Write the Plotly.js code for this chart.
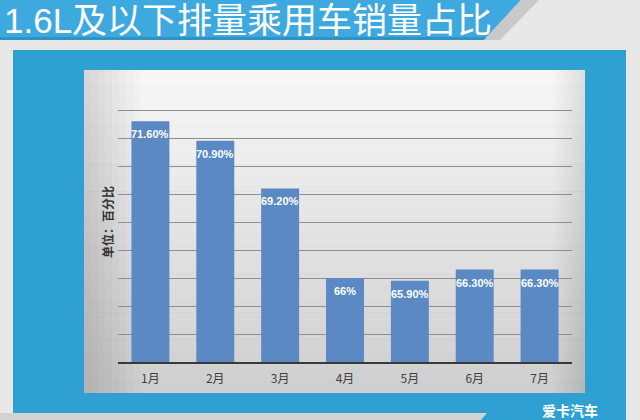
<!DOCTYPE html>
<html><head><meta charset="utf-8">
<script src="https://cdn.plot.ly/plotly-3.0.1.min.js"></script>
<style>html,body{margin:0;padding:0;background:#e8e8e8;}#chart{width:640px;height:420px;}</style>
</head><body><div id="chart"></div>
<script>
const months = ['1月','2月','3月','4月','5月','6月','7月'];
const shares = [71.6, 70.9, 69.2, 66, 65.9, 66.3, 66.3];
const shareLabels = ['71.60%','70.90%','69.20%','66%','65.90%','66.30%','66.30%'];
const chartTitle = '1.6L及以下排量乘用车销量占比';
const yAxisTitle = '单位：百分比';
const logoText = '爱卡汽车';
const yRange = [63, 73];

// plot-area pixel box (for decoration placement)
const L = 118, R = 572, T = 82, B = 362;
const px = x => (x - L) / (R - L);
const py = y => (B - y) / (B - T);
function rect(x0, y0, x1, y1, fill) {
  return {type:'rect', xref:'paper', yref:'paper', x0:px(x0), x1:px(x1), y0:py(y1), y1:py(y0),
          fillcolor:fill, line:{width:0}, layer:'below'};
}
function poly(pts, fill) {
  return {type:'path', xref:'paper', yref:'paper',
          path:'M' + pts.map(p => px(p[0]) + ',' + py(p[1])).join(' L') + ' Z',
          fillcolor:fill, line:{width:0}, layer:'below'};
}

const shapes = [];
// header banner
shapes.push(poly([[0,0],[521,0],[484,40],[0,40]], '#3ea9de'));
shapes.push(rect(0,37,486,40,'#2f93c6'));
shapes.push(poly([[521,0],[539,0],[500,40],[484,40]], '#c9c9c9'));
// blue frame
shapes.push(rect(13,50,626,420,'#2ea0d1'));
// chart area with vertical gradient
const cx0 = 84, cx1 = 585, cy0 = 70, cy1 = 393, N = 24;
for (let i = 0; i < N; i++) {
  const t = i / (N - 1);
  const v = Math.round(247 - 40 * t);
  const y0 = cy0 + (cy1 - cy0) * i / N, y1 = cy0 + (cy1 - cy0) * (i + 1) / N + 0.6;
  shapes.push(rect(cx0, y0, cx1, Math.min(y1, cy1), `rgb(${v},${v},${v})`));
}
// side shading
for (let i = 1; i <= 8; i++) {
  shapes.push(rect(cx0, cy0, cx0 + i * 7, cy1, 'rgba(0,0,0,0.017)'));
  shapes.push(rect(cx1 - i * 4, cy0, cx1, cy1, 'rgba(0,0,0,0.012)'));
}
// bottom tab
shapes.push(poly([[0,413],[487,413],[481,420],[0,420]], '#d2d2d2'));

const data = [{
  type:'bar', x:months, y:shares,
  marker:{color:'#5a89c4'}, hoverinfo:'none'
}];

const labelAnnotations = months.map((m, i) => ({
  xref:'x', yref:'y', x:m, y:shares[i], text:shareLabels[i],
  xanchor:'center', yanchor:'top', yshift:-5, showarrow:false,
  font:{family:'Liberation Sans, Arial, sans-serif', size:11, color:'#ffffff', weight:'bold'}
}));

const layout = {
  width:640, height:420,
  margin:{l:L, r:640 - R, t:T, b:420 - B, pad:0},
  paper_bgcolor:'#e8e8e8', plot_bgcolor:'rgba(0,0,0,0)',
  showlegend:false, bargap:0.415,
  xaxis:{showgrid:false, showline:true, linecolor:'#3a3a3a', linewidth:2, ticks:'',
         ticklabelstandoff:5, automargin:false,
         tickfont:{family:'Noto Sans CJK SC, sans-serif', size:12, color:'#404040'}},
  yaxis:{range:yRange, tick0:63, dtick:1, showticklabels:false, ticks:'',
         showgrid:true, gridcolor:'#8e8e8e', gridwidth:1, zeroline:false, showline:false,
         automargin:false,
         title:{text:yAxisTitle, standoff:0,
                font:{family:'Noto Sans CJK SC, sans-serif', size:12, color:'#333333', weight:'bold'}}},
  shapes:shapes,
  annotations:[
    {text:chartTitle, xref:'paper', yref:'paper', x:px(3), y:py(0), xanchor:'left', yanchor:'top',
     borderpad:0, showarrow:false,
     font:{family:'Liberation Sans, Noto Sans CJK SC, sans-serif', size:35, color:'#ffffff'}},
    {text:logoText, xref:'paper', yref:'paper', x:px(570), y:py(398), xanchor:'center', yanchor:'top',
     showarrow:false, font:{family:'Noto Sans CJK SC, sans-serif', size:14, color:'#ffffff', weight:'bold'}}
  ].concat(labelAnnotations)
};

Plotly.newPlot('chart', data, layout, {displayModeBar:false, staticPlot:true});
</script>
</body></html>
